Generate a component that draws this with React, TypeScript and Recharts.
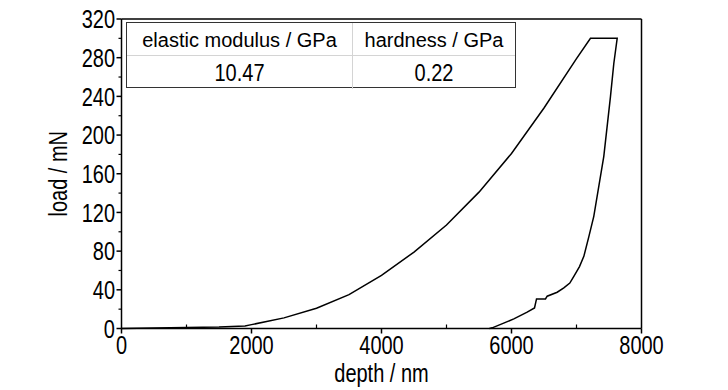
import { LineChart, Line, XAxis, YAxis, ReferenceLine, Label } from 'recharts';

// load-displacement curve: loading, hold at max load, unloading (path order)
const depthNm = [
  0, 500, 1000, 1500, 1900, 2000, 2500, 3000, 3500, 4000, 4500, 5000, 5500, 6000, 6500, 7000, 7215,
  7626, 7574, 7523, 7420, 7266, 7190, 7113, 7046, 6959, 6897, 6805, 6703, 6549, 6523, 6385, 6354, 6241, 6036, 5880, 5703, 5660,
];
const loadMn = [
  0, 0.5, 1, 1.5, 2.5, 4, 11, 21, 35, 55, 79, 107, 141, 181, 228, 279, 300,
  300, 274, 240, 178, 116, 95, 74.6, 64, 54, 47, 42, 37.5, 33.4, 30.6, 30.6, 21.3, 16.9, 10, 5.5, 0.7, 0,
];

// major ticks get a label, minor ticks only a short mark
const xTicks = [0, 1000, 2000, 3000, 4000, 5000, 6000, 7000, 8000];
const xMajorStep = 2000;
const yTicks = [0, 20, 40, 60, 80, 100, 120, 140, 160, 180, 200, 220, 240, 260, 280, 300, 320];
const yMajorStep = 40;

const tableHeaders = ['elastic modulus / GPa', 'hardness / GPa'];
const tableValues = ['10.47', '0.22'];

const data = depthNm.map((d, i) => ({ depth: d, load: loadMn[i] }));

const FONT = "'Liberation Sans', Arial, sans-serif";
const STRETCH = 1.3;

const YTick = (props: any) => {
  const { x, y, payload } = props;
  const major = payload.value % yMajorStep === 0;
  return (
    <g>
      <line x1={x} y1={y} x2={x - (major ? 5 : 3)} y2={y} stroke="#000" strokeWidth={major ? 1.5 : 1.2} />
      {major && (
        <g transform={`translate(${x - 6.5},${y}) scale(1,${STRETCH})`}>
          <text x={0} y={7.15} textAnchor="end" fontSize={20} fontFamily={FONT} fill="#000">
            {payload.value}
          </text>
        </g>
      )}
    </g>
  );
};

const XTick = (props: any) => {
  const { x, y, payload } = props;
  const major = payload.value % xMajorStep === 0;
  return (
    <g>
      <line x1={x} y1={y} x2={x} y2={major ? y + 5 : y - 4} stroke="#000" strokeWidth={major ? 1.5 : 1.2} />
      {major && (
        <g transform={`translate(${x},${y}) scale(1,${STRETCH})`}>
          <text x={0} y={19.6} textAnchor="middle" fontSize={20} fontFamily={FONT} fill="#000">
            {payload.value}
          </text>
        </g>
      )}
    </g>
  );
};

const XTitle = ({ viewBox }: any) => {
  const cx = viewBox.x + viewBox.width / 2;
  return (
    <g transform={`translate(${cx},${viewBox.y + 53.5}) scale(1,${STRETCH})`}>
      <text x={0} y={0} textAnchor="middle" fontSize={20} fontFamily={FONT} fill="#000">
        depth / nm
      </text>
    </g>
  );
};

const YTitle = ({ viewBox }: any) => {
  const cy = viewBox.y + viewBox.height / 2;
  return (
    <g transform={`translate(${viewBox.x + viewBox.width - 54.5},${cy}) rotate(-90) scale(1,${STRETCH})`}>
      <text x={0} y={0} textAnchor="middle" fontSize={20} fontFamily={FONT} fill="#000">
        load / mN
      </text>
    </g>
  );
};

const cell: React.CSSProperties = {
  textAlign: 'center',
  fontFamily: FONT,
  fontSize: 20,
  color: '#000',
  boxSizing: 'border-box',
};

function ResultTable() {
  return (
    <div
      style={{
        position: 'absolute',
        left: 126,
        top: 22,
        width: 390,
        height: 66,
        border: '1px solid #333',
        boxSizing: 'border-box',
        background: '#fff',
        display: 'grid',
        gridTemplateColumns: '226px 1fr',
        gridTemplateRows: '33px 1fr',
      }}
    >
      {tableHeaders.map((h, i) => (
        <div
          key={h}
          style={{
            ...cell,
            lineHeight: '33px',
            paddingTop: 1,
            borderBottom: '1px solid #d4d4d4',
            borderRight: i === 0 ? '1px solid #d4d4d4' : 'none',
          }}
        >
          {h}
        </div>
      ))}
      {tableValues.map((v, i) => (
        <div
          key={v}
          style={{
            ...cell,
            lineHeight: '31px',
            paddingTop: 2,
            borderRight: i === 0 ? '1px solid #d4d4d4' : 'none',
          }}
        >
          <span style={{ display: 'inline-block', transform: 'scaleY(1.2)' }}>{v}</span>
        </div>
      ))}
    </div>
  );
}

export default function App() {
  return (
    <div style={{ position: 'absolute', left: 0, top: 0, width: 728, height: 390, background: '#fff' }}>
      <LineChart
        width={728}
        height={390}
        data={data}
        margin={{ top: 19, right: 86.5, bottom: 21.5, left: 61.5 }}
      >
        <XAxis
          dataKey="depth"
          type="number"
          domain={[0, 8000]}
          ticks={xTicks}
          height={40}
          tickSize={0}
          tickMargin={0}
          tickLine={false}
          axisLine={{ stroke: '#000', strokeWidth: 1.5 }}
          tick={<XTick />}
          interval={0}
        >
          <Label content={<XTitle />} />
        </XAxis>
        <YAxis
          type="number"
          domain={[0, 320]}
          ticks={yTicks}
          width={60}
          tickSize={0}
          tickMargin={0}
          tickLine={false}
          axisLine={{ stroke: '#000', strokeWidth: 1.5 }}
          tick={<YTick />}
          interval={0}
        >
          <Label content={<YTitle />} />
        </YAxis>
        <ReferenceLine y={320} stroke="#000" strokeWidth={1.5} />
        <ReferenceLine x={8000} stroke="#000" strokeWidth={1.5} />
        <Line
          type="linear"
          dataKey="load"
          stroke="#000"
          strokeWidth={1.5}
          dot={false}
          isAnimationActive={false}
        />
      </LineChart>
      <ResultTable />
    </div>
  );
}
